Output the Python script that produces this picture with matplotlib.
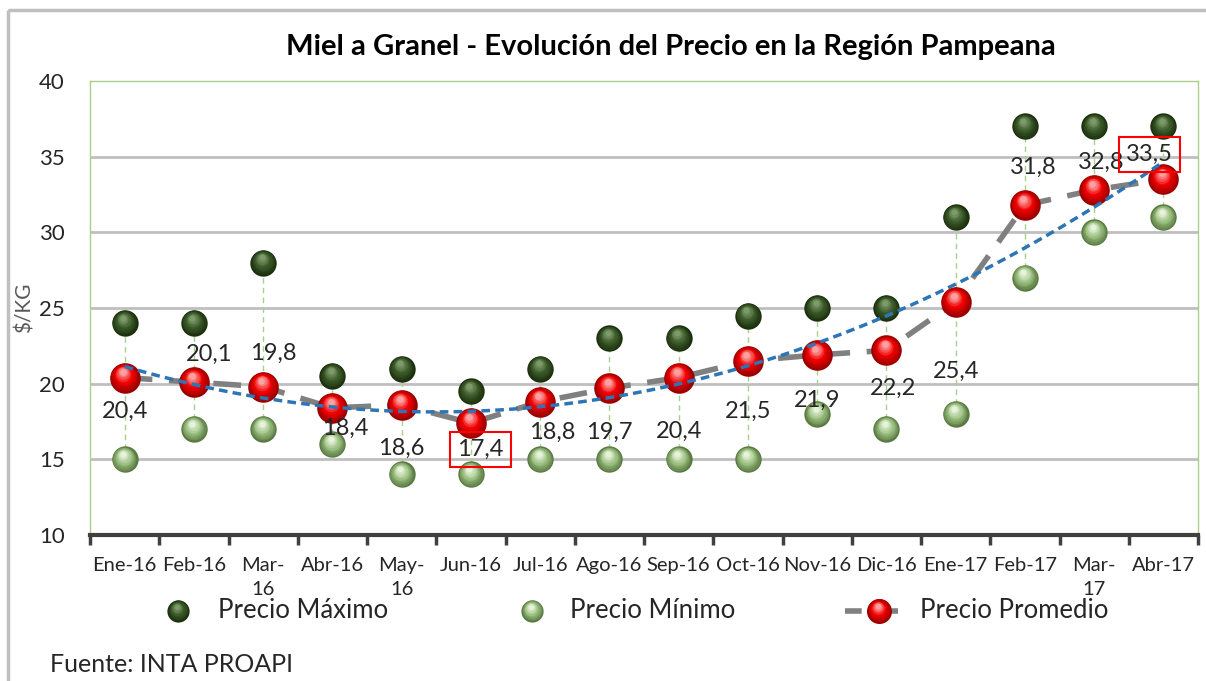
import numpy as np
import matplotlib
matplotlib.use("Agg")
import matplotlib.pyplot as plt
from matplotlib.transforms import offset_copy
from matplotlib.colors import to_rgb
from matplotlib.patches import Rectangle

plt.rcParams['font.family'] = ['Lato', 'DejaVu Sans']

meses = ['Ene-16', 'Feb-16', 'Mar-\n16', 'Abr-16', 'May-\n16', 'Jun-16', 'Jul-16', 'Ago-16',
         'Sep-16', 'Oct-16', 'Nov-16', 'Dic-16', 'Ene-17', 'Feb-17', 'Mar-\n17', 'Abr-17']
precio_max = [24, 24, 28, 20.5, 21, 19.5, 21, 23, 23, 24.5, 25, 25, 31, 37, 37, 37]
precio_min = [15, 17, 17, 16, 14, 14, 15, 15, 15, 15, 18, 17, 18, 27, 30, 31]
precio_prom = [20.4, 20.1, 19.8, 18.4, 18.6, 17.4, 18.8, 19.7, 20.4, 21.5, 21.9, 22.2,
               25.4, 31.8, 32.8, 33.5]
etiquetas = ['20,4', '20,1', '19,8', '18,4', '18,6', '17,4', '18,8', '19,7', '20,4', '21,5',
             '21,9', '22,2', '25,4', '31,8', '32,8', '33,5']
# offsets of the data labels (points), by hand from the picture
lab_dx = [0, 11, 7, 9, 0, 7, 9, 0, 0, 0, 0, 5, 0, 6, 5, -10]
lab_dy = [-24, 20, 24, -15, -31, -19, -22, -32, -39, -36, -33, -27, -50, 27, 20, 18]
resaltar = [5, 15]

W, H = 1206, 681
fig = plt.figure(figsize=(W / 100, H / 100), dpi=100)

# pixel overlay for the frame, legend and footnote
ov = fig.add_axes([0, 0, 1, 1], zorder=0)
ov.set_xlim(0, W)
ov.set_ylim(H, 0)
ov.axis('off')
ov.add_patch(Rectangle((8, 10), 1400, 900, fill=False, ec='#bfbfbf', lw=2.5))

ax = fig.add_axes([90 / W, (H - 535) / H, 1108 / W, 454 / H], zorder=1)
ax.set_facecolor('none')


def mezcla(a, b, f):
    a, b = np.array(to_rgb(a)), np.array(to_rgb(b))
    return tuple(a + (b - a) * f)


def esferas(axe, xs, ys, cols, ms, z):
    borde, medio, brillo = cols
    n = 9
    for i in range(n):
        f = i / (n - 1)
        if f < 0.5:
            c = mezcla(borde, medio, f * 2)
        else:
            c = mezcla(medio, brillo, (f - 0.5) * 2)
        tr = offset_copy(axe.transData, fig=fig, x=-0.06 * ms * f, y=0.2 * ms * f, units='points')
        axe.plot(xs, ys, 'o', ms=ms * (1 - 0.78 * f), color=c, mec='none', ls='none',
                 transform=tr, zorder=z)


c_max = ('#1c300f', '#3b5a29', '#7d9a6a')
c_min = ('#5b7a42', '#9cc082', '#e6f3da')
c_prom = ('#9a0000', '#f00000', '#ffa0a0')

x = np.arange(len(meses))

for i in x:
    ax.plot([i, i], [precio_min[i], precio_max[i]], color='#a9d18e', lw=1, ls=(0, (4, 3)), zorder=2)

ax.plot(x, precio_prom, color='#808080', lw=4, ls=(0, (5, 3)), zorder=3)
esferas(ax, x, precio_max, c_max, 19, 4)
esferas(ax, x, precio_min, c_min, 19, 4)
esferas(ax, x, precio_prom, c_prom, 22, 5)

# polynomial trend line
coef = np.polyfit(x, precio_prom, 2)
xt = np.linspace(0, len(meses) - 1, 200)
ax.plot(xt, np.polyval(coef, xt), color='#2e75b6', lw=2.5, ls=(0, (2.5, 1.5)), zorder=6)

for i in x:
    kw = {}
    if i in resaltar:
        kw['bbox'] = dict(boxstyle='square,pad=0.3', fc='none', ec='#ff0000', lw=1.5)
    ax.annotate(etiquetas[i], (i, precio_prom[i]), xytext=(lab_dx[i], lab_dy[i]),
                textcoords='offset points', ha='center', va='center', fontsize=17,
                color='#262626', zorder=7, **kw)

ax.set_xlim(-0.5, len(meses) - 0.5)
ax.set_ylim(10, 40)
ax.set_yticks([10, 15, 20, 25, 30, 35, 40])
ax.tick_params(axis='y', length=0, labelsize=16, labelcolor='#262626', pad=18)
ax.set_xticks(x)
ax.set_xticklabels(meses, fontsize=14.5, color='#262626', linespacing=1.5, va='top')
ax.tick_params(axis='x', length=0, pad=16)
ax.set_xticks(np.arange(-0.5, len(meses), 1), minor=True)
ax.tick_params(axis='x', which='minor', length=7, width=2.5, color='#404040', direction='out')
for v in [15, 20, 25, 30, 35]:
    ax.axhline(v, color='#bfbfbf', lw=2, zorder=1)
for s in ['top', 'left', 'right']:
    ax.spines[s].set_color('#a9d18e')
    ax.spines[s].set_linewidth(1)
ax.spines['bottom'].set_color('#404040')
ax.spines['bottom'].set_linewidth(3)
ax.set_ylabel('$/KG', fontsize=15, color='#595959', labelpad=2)
ax.yaxis.set_label_coords(-0.05, 0.5)

ov.text(671, 47, 'Miel a Granel - Evolución del Precio en la Región Pampeana',
        ha='center', va='center', fontsize=21, fontweight='bold', color='#000000')

# legend
esferas(ov, [178], [611], c_max, 16, 3)
ov.text(218, 611, 'Precio Máximo', va='center', fontsize=18.5, color='#262626')
esferas(ov, [532], [611], c_min, 16, 3)
ov.text(570, 611, 'Precio Mínimo', va='center', fontsize=18.5, color='#262626')
ov.plot([845, 898], [611, 611], color='#808080', lw=4, ls=(0, (3, 1.2)), zorder=2)
esferas(ov, [879], [611], c_prom, 18, 3)
ov.text(920, 611, 'Precio Promedio', va='center', fontsize=18.5, color='#262626')

ov.text(50, 664, 'Fuente: INTA PROAPI', va='center', fontsize=18, color='#262626')

fig.savefig('out.png', dpi=100)
